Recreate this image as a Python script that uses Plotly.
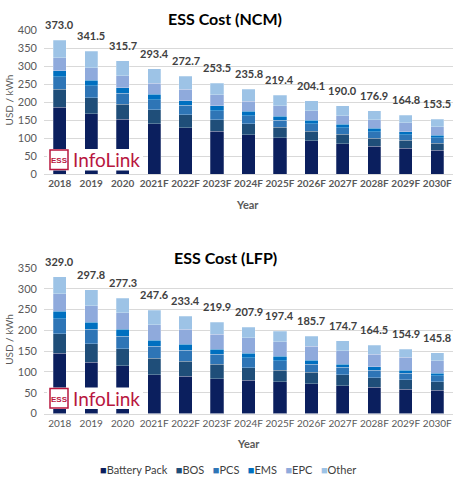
import plotly.graph_objects as go

years = ["2018", "2019", "2020", "2021F", "2022F", "2023F", "2024F", "2025F",
         "2026F", "2027F", "2028F", "2029F", "2030F"]
series_names = ["Battery Pack", "BOS", "PCS", "EMS", "EPC", "Other"]
colors = ["#0b1f5e", "#1f4e79", "#2e75b6", "#0070c0", "#8faadc", "#9dc3e6"]

# NCM
ncm_battery = [187, 168, 153, 140, 130, 120, 110, 102, 93, 85, 77.5, 72, 66.7]
ncm_bos = [49, 45, 42, 39, 36, 32, 31, 29, 27, 26, 23.5, 23, 20]
ncm_pcs = [35, 33, 30, 28, 26, 25, 22, 20, 20, 18, 18, 15, 15]
ncm_ems = [17, 16, 16, 15, 13, 14, 12, 10, 10, 10, 9, 9, 7]
ncm_epc = [36, 34, 33, 31, 31, 30, 28, 29, 27, 24, 24, 24, 23]
ncm_other = [49.0, 45.5, 41.7, 40.4, 36.7, 32.5, 32.8, 29.4, 27.1, 27.0, 24.9, 21.8, 21.8]
ncm_total = [373.0, 341.5, 315.7, 293.4, 272.7, 253.5, 235.8, 219.4, 204.1, 190.0, 176.9, 164.8, 153.5]

# LFP
lfp_battery = [145, 123, 114.6, 93.5, 89, 84, 79.5, 76.4, 71.7, 67, 63, 58.5, 56]
lfp_bos = [47, 44.6, 41.4, 39, 36.5, 34.5, 31, 28, 27.3, 25.7, 23.5, 22.5, 20.4]
lfp_pcs = [36, 35, 30, 29.5, 26.5, 24, 23.5, 22.6, 20, 18.8, 18, 15.6, 14]
lfp_ems = [17.5, 16.4, 16.6, 14, 14, 12, 11, 11, 9.6, 7.5, 8, 8, 7]
lfp_epc = [42.5, 40.5, 39.8, 36.8, 36.6, 35.7, 36.6, 34, 32.7, 32, 29.5, 30.4, 29.6]
lfp_other = [41.0, 38.3, 34.9, 34.8, 30.8, 29.7, 26.3, 25.4, 24.4, 23.7, 22.5, 19.9, 18.8]
lfp_total = [329.0, 297.8, 277.3, 247.6, 233.4, 219.9, 207.9, 197.4, 185.7, 174.7, 164.5, 154.9, 145.8]

W, H = 460, 487
def py(px):
    return 1 - px / H

FONT = "Lato"
GRAY = "#595959"

fig = go.Figure()
ncm = [ncm_battery, ncm_bos, ncm_pcs, ncm_ems, ncm_epc, ncm_other]
lfp = [lfp_battery, lfp_bos, lfp_pcs, lfp_ems, lfp_epc, lfp_other]
for (xa, ya, data) in [("x", "y", ncm), ("x2", "y2", lfp)]:
    for name, col, v in zip(series_names, colors, data):
        fig.add_trace(go.Bar(x=years, y=v, name=name,
                             marker=dict(color=col, line=dict(color="rgba(255,255,255,0.5)", width=0.5)),
                             xaxis=xa, yaxis=ya, showlegend=False, hoverinfo="skip"))

def txt(x, y, text, size, color, **kw):
    d = dict(x=x / W, y=py(y), xref="paper", yref="paper", text=text, showarrow=False,
             xanchor="center", yanchor="middle", font=dict(family=FONT, size=size, color=color))
    d.update(kw)
    return d

ann = []
# total labels above each stacked bar (category index positions)
for (xr, yr, tot) in [("x", "y", ncm_total), ("x2", "y2", lfp_total)]:
    for i, t in enumerate(tot):
        ann.append(dict(x=i, y=t, xref=xr, yref=yr, text=f"<b>{t:.1f}</b>", showarrow=False,
                        xanchor="center", yanchor="bottom", yshift=7,
                        font=dict(family=FONT, size=11, color="#404040")))

ann.append(txt(225, 12, "<b>ESS Cost (NCM)</b>", 16, "#000000"))
ann.append(txt(225, 257, "<b>ESS Cost (LFP)</b>", 16, "#000000"))
ann.append(txt(9, 96, "USD / kWh", 10, GRAY, textangle=-90))
ann.append(txt(9, 342, "USD / kWh", 10, GRAY, textangle=-90))
ann.append(txt(247, 203, "<b>Year</b>", 11, GRAY))
ann.append(txt(248, 448, "<b>Year</b>", 11, GRAY))

legend_txt = "&nbsp;&nbsp;&nbsp;".join(
    f"<span style='color:{c}'>■</span>{n}" for n, c in zip(series_names, colors))
ann.append(txt(228, 475, legend_txt, 11, "#404040"))

shapes = []
red = "#b8173f"
for (top, bot) in [(146, 168), (391, 413)]:
    shapes.append(dict(type="rect", xref="paper", yref="paper", x0=47 / W, x1=143 / W, y0=py(bot), y1=py(top),
                       fillcolor="white", line=dict(width=0), layer="above"))
    shapes.append(dict(type="rect", xref="paper", yref="paper", x0=50 / W, x1=68 / W, y0=py(bot - 1), y1=py(top + 1),
                       fillcolor="white", line=dict(color=red, width=1.5), layer="above"))
    mid = (top + bot) / 2
    ann.append(txt(59, mid + 1, "<b>ESS</b>", 8, red, font=dict(family="Liberation Sans Narrow, Liberation Sans", size=8, color=red)))
    ann.append(txt(71, mid, "InfoLink", 19, red, xanchor="left"))

xdom = [44 / W, 453 / W]
axis_common = dict(type="category", range=[-0.5, len(years) - 0.5], showgrid=False, showline=True,
                   linecolor="#d9d9d9", linewidth=1, ticks="", tickangle=0,
                   tickfont=dict(family=FONT, size=10, color=GRAY))
fig.update_layout(
    width=W, height=H, margin=dict(l=0, r=0, t=0, b=0),
    paper_bgcolor="white", plot_bgcolor="white",
    barmode="stack", bargap=0.58, showlegend=False,
    xaxis=dict(domain=xdom, anchor="y", **axis_common,
               tickvals=years, ticktext=[f"<b>{y}</b>" for y in years]),
    yaxis=dict(domain=[py(172), py(24)], range=[0, 400], dtick=50, anchor="x",
               showgrid=True, gridcolor="#d9d9d9", zeroline=False, ticklabelstandoff=6,
               tickfont=dict(family=FONT, size=11, color=GRAY)),
    xaxis2=dict(domain=xdom, anchor="y2", **axis_common),
    yaxis2=dict(domain=[py(417.7), py(268)], range=[0, 350], dtick=50, anchor="x2",
                showgrid=True, gridcolor="#d9d9d9", zeroline=False, ticklabelstandoff=6,
                tickfont=dict(family=FONT, size=11, color=GRAY)),
    annotations=ann, shapes=shapes,
)
fig.write_html("out.html")
